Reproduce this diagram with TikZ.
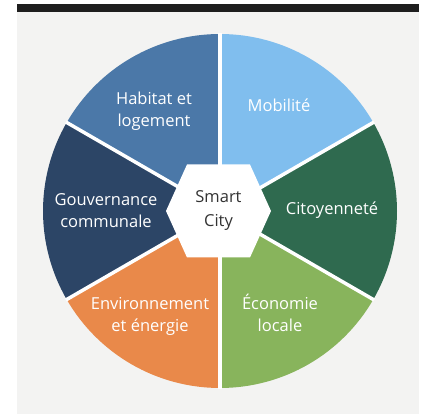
\documentclass[tikz,border=0pt]{standalone}
\usepackage{fontspec}
\setmainfont{Open Sans}
\definecolor{paper}{HTML}{F3F3F2}
\definecolor{bar}{HTML}{1E1E1E}
\definecolor{mobilite}{HTML}{80BEEE}
\definecolor{habitat}{HTML}{4B78A8}
\definecolor{gouvernance}{HTML}{2C4566}
\definecolor{environnement}{HTML}{E9894A}
\definecolor{economie}{HTML}{88B45C}
\definecolor{citoyennete}{HTML}{2F6A4F}
\definecolor{hubtext}{HTML}{333333}
\tikzset{
    slicelabel/.style={
        text=white,
        align=center,
        font=\fontsize{16.5}{22}\selectfont
    },
    separator/.style={draw=white, line width=3.5pt}
}

\begin{document}
\begin{tikzpicture}[x=1pt,y=1pt,
            hub/.style={
                align=center,
                text=hubtext,
                font=\fontsize{16.5}{24}\selectfont
            }]
    \fill[white] (0,0) rectangle (429,414);
    \useasboundingbox (0,0) rectangle (429,414);
    \fill[paper] (17,0) rectangle (419,402);
    \fill[bar] (17,402) rectangle (419,410);
    \coordinate (centre) at (220,203);
    \foreach \start/\col in {30/mobilite,90/habitat,150/gouvernance,210/environnement,270/economie,330/citoyennete}
        \fill[\col] (centre) -- ++(\start:177pt) arc[start angle=\start, delta angle=60, radius=177pt] -- cycle;
    \foreach \angle in {30,90,...,330}
        \draw[separator] (centre) -- ++(\angle:178pt);
    \fill[white] ([xshift=-1.5pt]centre) +(-52.5,0) -- +(-31.5,46.5) -- +(31.5,46.5)
        -- +(52.5,0) -- +(31.5,-46.5) -- +(-31.5,-46.5) -- cycle;
    \node[hub] (smart) at ([xshift=-1.5pt]centre) {Smart\\City};
    \node[slicelabel] (habitat) at (154,303) {Habitat et\\logement};
    \node[slicelabel] (mobilite) at (279,309) {Mobilité};
    \node[slicelabel] (gouvernance) at (106,203) {Gouvernance\\communale};
    \node[slicelabel] (citoyennete) at (332,204) {Citoyenneté};
    \node[slicelabel] (environnement) at (150,98) {Environnement\\et énergie};
    \node[slicelabel] (economie) at (280,101) {Économie\\locale};
\end{tikzpicture}
\end{document}
